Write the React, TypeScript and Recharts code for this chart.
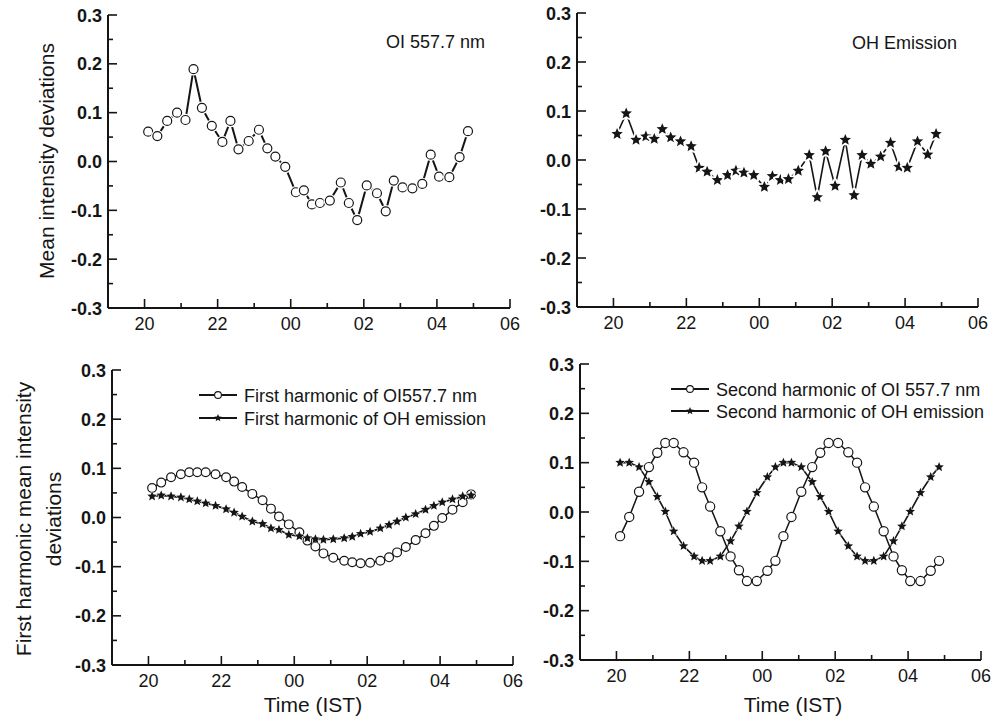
import { LineChart, Line, XAxis, YAxis, Customized } from 'recharts'

const INK = '#151515'
const FONT = '"Liberation Sans", Arial, Helvetica, sans-serif'

// time in hours after 18 LT, 00 = 24, 06 = 30
const times = [
  20.1, 20.35, 20.62, 20.89, 21.12, 21.34, 21.57, 21.84, 22.13, 22.35, 22.57, 22.85,
  23.13, 23.36, 23.58, 23.85, 24.14, 24.36, 24.58, 24.8, 25.07, 25.37, 25.59, 25.82,
  26.08, 26.36, 26.6, 26.82, 27.06, 27.33, 27.6, 27.83, 28.06, 28.34, 28.62, 28.85,
]

const oiMean = [
  0.061, 0.052, 0.083, 0.1, 0.085, 0.189, 0.11, 0.073, 0.04, 0.083, 0.025, 0.042,
  0.065, 0.027, 0.01, -0.011, -0.063, -0.059, -0.088, -0.085, -0.08, -0.043, -0.085, -0.12,
  -0.049, -0.065, -0.102, -0.039, -0.053, -0.055, -0.046, 0.014, -0.031, -0.032, 0.009, 0.062,
]

const ohMean = [
  0.053, 0.095, 0.041, 0.048, 0.043, 0.063, 0.046, 0.038, 0.028, -0.016, -0.024, -0.041,
  -0.031, -0.022, -0.026, -0.031, -0.055, -0.033, -0.041, -0.039, -0.022, 0.01, -0.076, 0.018,
  -0.053, 0.041, -0.072, 0.01, -0.008, 0.007, 0.035, -0.014, -0.016, 0.038, 0.011, 0.053,
]

const oiFirst = [
  0.06, 0.071, 0.082, 0.088, 0.092, 0.092, 0.092, 0.088, 0.082, 0.073, 0.062, 0.048,
  0.035, 0.018, 0.002, -0.014, -0.03, -0.047, -0.059, -0.073, -0.082, -0.088, -0.091, -0.093,
  -0.092, -0.088, -0.081, -0.071, -0.06, -0.046, -0.032, -0.017, -0.001, 0.016, 0.031, 0.047,
]

const ohFirst = [
  0.043, 0.045, 0.043, 0.041, 0.037, 0.033, 0.029, 0.024, 0.017, 0.01, 0.002, -0.008,
  -0.013, -0.022, -0.025, -0.035, -0.038, -0.042, -0.044, -0.045, -0.044, -0.042, -0.039, -0.033,
  -0.029, -0.022, -0.015, -0.008, 0.0, 0.007, 0.016, 0.024, 0.031, 0.037, 0.043, 0.045,
]

const oiSecond = [
  -0.049, -0.01, 0.041, 0.091, 0.12, 0.14, 0.14, 0.121, 0.1, 0.05, 0.011, -0.039,
  -0.09, -0.118, -0.14, -0.14, -0.119, -0.099, -0.049, -0.01, 0.041, 0.091, 0.12, 0.14,
  0.14, 0.121, 0.1, 0.05, 0.011, -0.039, -0.09, -0.118, -0.14, -0.14, -0.119, -0.099,
]

const ohSecond = [
  0.1, 0.1, 0.091, 0.061, 0.031, 0.001, -0.039, -0.069, -0.09, -0.099, -0.099, -0.09,
  -0.059, -0.029, 0.001, 0.039, 0.071, 0.091, 0.1, 0.1, 0.091, 0.061, 0.031, 0.001,
  -0.039, -0.069, -0.09, -0.099, -0.099, -0.09, -0.059, -0.029, 0.001, 0.039, 0.071, 0.091,
]

const hourTicks = [19, 20, 21, 22, 23, 24, 25, 26, 27, 28, 29, 30]
const valueTicks = [-0.3, -0.25, -0.2, -0.15, -0.1, -0.05, 0, 0.05, 0.1, 0.15, 0.2, 0.25, 0.3]

const hourLabel = (h: number) => String(h % 24).padStart(2, '0')

interface Box { left: number; top: number; width: number; height: number }
interface Plot { x0: number; x1: number; y0: number; y1: number }

function renderXTick(p: any) {
  const h = p.payload.value
  const major = h % 2 === 0
  return (
    <g key={`xb-${h}`}>
      <line x1={p.x} y1={p.y} x2={p.x} y2={p.y - (major ? 9 : 5)} stroke={INK} strokeWidth={1.6} />
      {major && (
        <text x={p.x} y={p.y + 22} textAnchor="middle" fontSize={18} fill={INK}>
          {hourLabel(h)}
        </text>
      )}
    </g>
  )
}

function renderTopTick(p: any) {
  return <line key={`xt-${p.payload.value}`} x1={p.x} y1={p.y} x2={p.x} y2={p.y + 3} stroke={INK} strokeWidth={1} />
}

function renderYTick(p: any) {
  const v = p.payload.value
  const major = Math.abs(v * 10 - Math.round(v * 10)) < 1e-6
  return (
    <g key={`yl-${v}`}>
      <line x1={p.x} y1={p.y} x2={p.x + (major ? 9 : 5)} y2={p.y} stroke={INK} strokeWidth={1.6} />
      {major && (
        <text x={p.x - 6} y={p.y + 6.5} textAnchor="end" fontSize={18} fontWeight="bold" fill={INK}>
          {v.toFixed(1)}
        </text>
      )}
    </g>
  )
}

function frameAxes(box: Box, plot: Plot) {
  const frame = { stroke: INK, strokeWidth: 2 }
  return [
    <XAxis key="xb" xAxisId="b" dataKey="t" type="number" domain={[19, 30]} ticks={hourTicks} interval={0}
      height={40} tickSize={0} tickMargin={0} tickLine={false} axisLine={frame} tick={renderXTick} allowDataOverflow />,
    <XAxis key="xt" xAxisId="t" orientation="top" dataKey="t" type="number" domain={[19, 30]} ticks={hourTicks} interval={0}
      height={0} tickSize={0} tickMargin={0} tickLine={false} axisLine={frame} tick={renderTopTick} allowDataOverflow />,
    <YAxis key="yl" yAxisId="l" type="number" domain={[-0.3, 0.3]} ticks={valueTicks} interval={0}
      width={plot.x0 - box.left} tickSize={0} tickMargin={0} tickLine={false} axisLine={frame} tick={renderYTick} allowDataOverflow />,
    <YAxis key="yr" yAxisId="r" orientation="right" type="number" domain={[-0.3, 0.3]} width={0}
      tick={false} tickLine={false} axisLine={frame} />,
  ]
}

function margins(box: Box, plot: Plot) {
  return {
    top: plot.y0 - box.top,
    left: 0,
    right: box.left + box.width - plot.x1,
    bottom: box.top + box.height - plot.y1 - 40,
  }
}

function starPath(cx: number, cy: number, R: number) {
  const r = R * 0.45
  let d = ''
  for (let k = 0; k < 10; k++) {
    const a = -Math.PI / 2 + (k * Math.PI) / 5
    const rad = k % 2 === 0 ? R : r
    d += (k ? 'L' : 'M') + (cx + rad * Math.cos(a)).toFixed(2) + ',' + (cy + rad * Math.sin(a)).toFixed(2)
  }
  return d + 'Z'
}

const circleDot = (r: number, halo: number) => (p: any) => (
  <g key={`c-${p.index}`}>
    {halo > 0 && <circle cx={p.cx} cy={p.cy} r={r + halo} fill="#fff" />}
    <circle cx={p.cx} cy={p.cy} r={r} fill="#fff" stroke={INK} strokeWidth={1.2} />
  </g>
)

const starDot = (R: number, halo: number) => (p: any) => (
  <path key={`s-${p.index}`} d={starPath(p.cx, p.cy, R)} fill={INK} stroke="#fff" strokeWidth={halo * 2}
    strokeLinejoin="round" paintOrder="stroke" />
)

const rows = (a: number[], b: number[]) => times.map((t, i) => ({ t, a: a[i], b: b[i] }))

const boxes: Box[] = [
  { left: 0, top: 0, width: 520, height: 350 },
  { left: 520, top: 0, width: 475, height: 350 },
  { left: 0, top: 350, width: 530, height: 371 },
  { left: 530, top: 350, width: 465, height: 371 },
]
const plots: Plot[] = [
  { x0: 108, x1: 510, y0: 15, y1: 308 },
  { x0: 577, x1: 978, y0: 13, y1: 307 },
  { x0: 112, x1: 513, y0: 370, y1: 665 },
  { x0: 580, x1: 981, y0: 364, y1: 660 },
]

function Panel({ idx, data, children, overlay }: { idx: number; data: any[]; children: any; overlay: (b: Box) => any }) {
  const box = boxes[idx]
  const plot = plots[idx]
  return (
    <div style={{ position: 'absolute', left: box.left, top: box.top, width: box.width, height: box.height }}>
      <LineChart width={box.width} height={box.height} data={data} margin={margins(box, plot)}>
        {frameAxes(box, plot)}
        {children}
        <Customized component={() => overlay(box)} />
      </LineChart>
    </div>
  )
}

function LegendRow({ x, y, label, star }: { x: number; y: number; label: string; star: boolean }) {
  return (
    <g>
      <line x1={x} y1={y} x2={x + 38} y2={y} stroke={INK} strokeWidth={2} />
      {star ? (
        <path d={starPath(x + 19, y, 4)} fill={INK} />
      ) : (
        <circle cx={x + 19} cy={y} r={3.4} fill="#fff" stroke={INK} strokeWidth={1.1} />
      )}
      <text x={x + 45} y={y + 6.5} fontSize={18} fill={INK}>{label}</text>
    </g>
  )
}

export default function App() {
  return (
    <div style={{ position: 'absolute', left: 0, top: 0, width: 995, height: 721, background: '#fff', fontFamily: FONT }}>
      <Panel idx={0} data={rows(oiMean, ohMean)} overlay={(b) => (
        <g>
          <text x={386 - b.left} y={48 - b.top} fontSize={18} fill={INK}>OI 557.7 nm</text>
          <text x={46 - b.left} y={161 - b.top} fontSize={21} fill={INK} textAnchor="middle" dominantBaseline="central"
            transform={`rotate(-90, ${46 - b.left}, ${161 - b.top})`}>Mean intensity deviations</text>
        </g>
      )}>
        <Line xAxisId="b" yAxisId="l" dataKey="a" type="linear" stroke={INK} strokeWidth={2}
          dot={circleDot(4.5, 1.8)} activeDot={false} isAnimationActive={false} />
      </Panel>

      <Panel idx={1} data={rows(oiMean, ohMean)} overlay={(b) => (
        <text x={852 - b.left} y={49 - b.top} fontSize={18} fill={INK}>OH Emission</text>
      )}>
        <Line xAxisId="b" yAxisId="l" dataKey="b" type="linear" stroke={INK} strokeWidth={1.6}
          dot={starDot(6, 1.8)} activeDot={false} isAnimationActive={false} />
      </Panel>

      <Panel idx={2} data={rows(oiFirst, ohFirst)} overlay={(b) => (
        <g>
          <LegendRow x={199 - b.left} y={395 - b.top} label="First harmonic of OI557.7 nm" star={false} />
          <LegendRow x={199 - b.left} y={418 - b.top} label="First harmonic of OH emission" star={true} />
          <text transform={`rotate(-90, ${23 - b.left}, ${519 - b.top})`} x={23 - b.left} y={519 - b.top}
            fontSize={21} fill={INK} textAnchor="middle" dominantBaseline="central">First harmonic mean intensity</text>
          <text transform={`rotate(-90, ${53 - b.left}, ${519 - b.top})`} x={53 - b.left} y={519 - b.top}
            fontSize={21} fill={INK} textAnchor="middle" dominantBaseline="central">deviations</text>
          <text x={313 - b.left} y={712 - b.top} fontSize={21} fill={INK} textAnchor="middle">Time (IST)</text>
        </g>
      )}>
        <Line xAxisId="b" yAxisId="l" dataKey="a" type="linear" stroke={INK} strokeWidth={1.5}
          dot={circleDot(4.4, 0)} activeDot={false} isAnimationActive={false} />
        <Line xAxisId="b" yAxisId="l" dataKey="b" type="linear" stroke={INK} strokeWidth={1.8}
          dot={starDot(5, 0.5)} activeDot={false} isAnimationActive={false} />
      </Panel>

      <Panel idx={3} data={rows(oiSecond, ohSecond)} overlay={(b) => (
        <g>
          <LegendRow x={671 - b.left} y={389 - b.top} label="Second harmonic of OI 557.7 nm" star={false} />
          <LegendRow x={671 - b.left} y={411 - b.top} label="Second harmonic of OH emission" star={true} />
          <text x={793 - b.left} y={712 - b.top} fontSize={21} fill={INK} textAnchor="middle">Time (IST)</text>
        </g>
      )}>
        <Line xAxisId="b" yAxisId="l" dataKey="a" type="linear" stroke={INK} strokeWidth={1.5}
          dot={circleDot(4.6, 0)} activeDot={false} isAnimationActive={false} />
        <Line xAxisId="b" yAxisId="l" dataKey="b" type="linear" stroke={INK} strokeWidth={1.6}
          dot={starDot(5, 0.5)} activeDot={false} isAnimationActive={false} />
      </Panel>
    </div>
  )
}
